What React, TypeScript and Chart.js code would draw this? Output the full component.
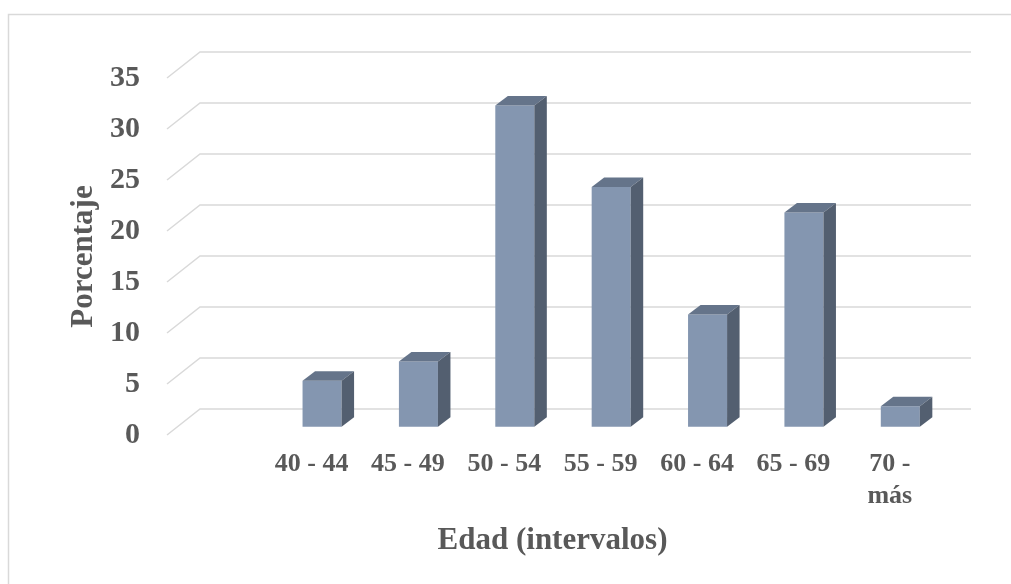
import { useEffect, useRef } from "react";
import { Chart, registerables } from "chart.js";

Chart.register(...registerables);

const categories: (string | string[])[] = ["", "40 - 44", "45 - 49", "50 - 54", "55 - 59", "60 - 64", "65 - 69", ["70 -", "más"]];
const porcentaje: (number | null)[] = [null, 4.5, 6.4, 31.5, 23.5, 11.0, 21.0, 2.0];
const yTicks = { min: 0, max: 35, step: 5 };

const FONT = '"Liberation Serif", "Times New Roman", serif';
const TEXT = "#595959";
const GRID = "#D9D9D9";
const FRONT = "#8496B0";
const TOP = "#65748A";
const SIDE = "#535F70";

// depth of floor (front -> back) and bar placement within it
const DEPTH_X = 33;
const DEPTH_Y = -26;
const BAR_SHIFT_X = 10.5;
const BAR_SHIFT_Y = -8.3;
const BAR_DX = 12.5;
const BAR_DY = -9.5;

const threeD = {
  id: "threeD",
  beforeDraw(chart: any) {
    const ctx = chart.ctx;
    ctx.save();
    ctx.strokeStyle = GRID;
    ctx.lineWidth = 1.5;
    ctx.strokeRect(8.5, 14.5, 1200, 800);
    const { left, right } = chart.chartArea;
    const ys = chart.scales.y;
    ctx.strokeStyle = GRID;
    ctx.lineWidth = 1.5;
    ys.ticks.forEach((t: any) => {
      const y = ys.getPixelForValue(t.value);
      ctx.beginPath();
      ctx.moveTo(left, y);
      ctx.lineTo(left + DEPTH_X, y + DEPTH_Y);
      ctx.lineTo(right + DEPTH_X, y + DEPTH_Y);
      ctx.stroke();
    });
    ctx.restore();
  },
  beforeDatasetsDraw(chart: any) {
    chart.ctx.save();
    chart.ctx.translate(BAR_SHIFT_X, BAR_SHIFT_Y);
  },
  afterDatasetsDraw(chart: any) {
    const ctx = chart.ctx;
    const meta = chart.getDatasetMeta(0);
    meta.data.forEach((el: any, i: number) => {
      const v = porcentaje[i];
      if (v === null || v === undefined) return;
      const { x, y, base, width } = el.getProps(["x", "y", "base", "width"], true);
      const l = x - width / 2;
      const r = x + width / 2;
      ctx.fillStyle = TOP;
      ctx.beginPath();
      ctx.moveTo(l, y);
      ctx.lineTo(l + BAR_DX, y + BAR_DY);
      ctx.lineTo(r + BAR_DX, y + BAR_DY);
      ctx.lineTo(r, y);
      ctx.closePath();
      ctx.fill();
      ctx.fillStyle = SIDE;
      ctx.beginPath();
      ctx.moveTo(r, y);
      ctx.lineTo(r + BAR_DX, y + BAR_DY);
      ctx.lineTo(r + BAR_DX, base + BAR_DY);
      ctx.lineTo(r, base);
      ctx.closePath();
      ctx.fill();
    });
    ctx.restore();
  },
};

export default function App() {
  const ref = useRef<HTMLCanvasElement | null>(null);
  useEffect(() => {
    if (!ref.current) return;
    const chart = new Chart(ref.current, {
      type: "bar",
      data: {
        labels: categories,
        datasets: [
          {
            label: "Porcentaje",
            data: porcentaje,
            backgroundColor: FRONT,
            borderWidth: 0,
            barPercentage: 0.405,
            categoryPercentage: 1,
            clip: false as any,
          },
        ],
      },
      options: {
        animation: false,
        responsive: false,
        maintainAspectRatio: false,
        layout: { padding: { top: 78, right: 73, left: 0, bottom: 0 } },
        plugins: { legend: { display: false }, tooltip: { enabled: false } },
        scales: {
          x: {
            grid: { display: false, drawTicks: false },
            border: { display: false },
            ticks: {
              color: TEXT,
              padding: 14,
              maxRotation: 0,
              autoSkip: false,
              font: { family: FONT, size: 26, weight: "bold", lineHeight: 1.2 },
            },
            title: {
              display: true,
              text: "Edad (intervalos)",
              color: TEXT,
              font: { family: FONT, size: 31, weight: "bold" },
              padding: { top: 0, bottom: 24 },
            },
            afterFit: (s: any) => {
              s.height = 149;
            },
          },
          y: {
            min: yTicks.min,
            max: yTicks.max,
            grid: { display: false, drawTicks: false },
            border: { display: false },
            ticks: {
              stepSize: yTicks.step,
              color: TEXT,
              padding: 27,
              font: { family: FONT, size: 30, weight: "bold" },
            },
            title: {
              display: true,
              text: "Porcentaje",
              color: TEXT,
              font: { family: FONT, size: 31, weight: "bold" },
              padding: { top: 65, bottom: 0 },
            },
            afterFit: (s: any) => {
              s.width = 167;
            },
          },
        },
      },
      plugins: [threeD],
    });
    return () => chart.destroy();
  }, []);
  return (
    <canvas
      ref={ref}
      width={1011}
      height={584}
      style={{ position: "fixed", left: 0, top: 0, width: 1011, height: 584, display: "block" }}
    />
  );
}
